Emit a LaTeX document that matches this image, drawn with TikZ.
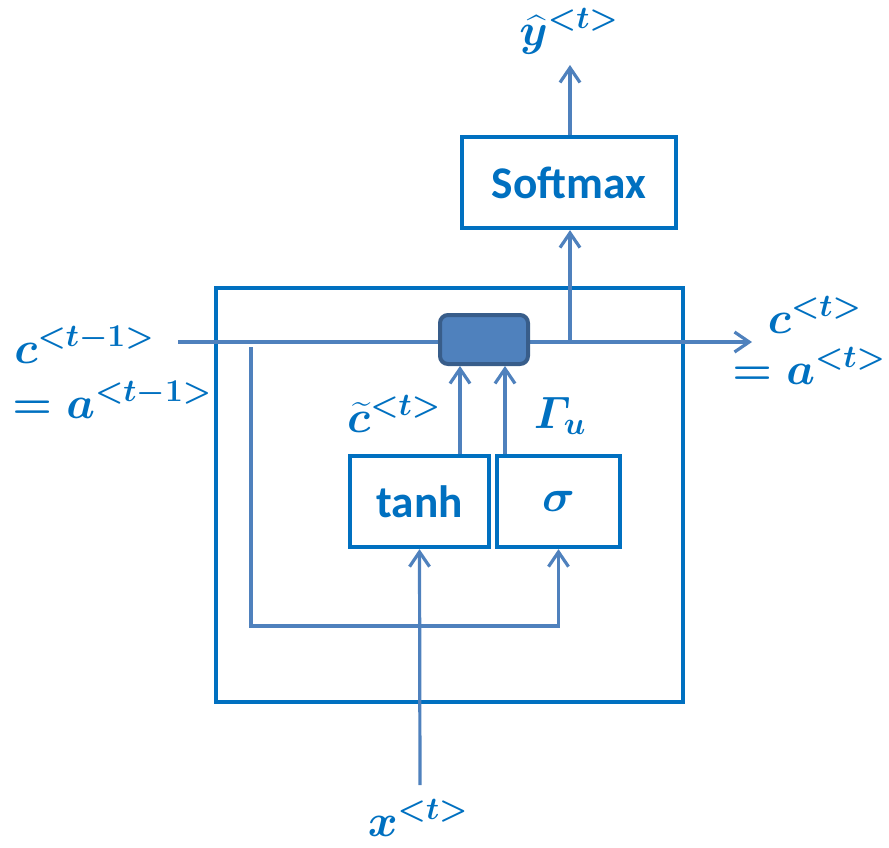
\RequirePackage{fix-cm}
\documentclass[tikz,border=0pt]{standalone}
\usepackage{amsmath}
\usepackage{fontspec}
\newfontfamily\carlito{Carlito}
\usetikzlibrary{arrows.meta}
\definecolor{boxblue}{HTML}{0070C0}
\definecolor{linkblue}{HTML}{4F81BD}
\definecolor{gateedge}{HTML}{385D8A}
\begin{document}
\begin{tikzpicture}[x=0.75pt,y=-0.75pt,
  box/.style={draw=boxblue, line width=3.2pt, rectangle, inner sep=0pt},
  link/.style={draw=linkblue, line width=2.4pt},
  arr/.style={link, -{Straight Barb[length=11pt,width=15pt,line width=2.4pt]}},
  lab/.style={text=boxblue, font=\fontsize{34}{38}\selectfont\boldmath, inner sep=0pt},
  word/.style={text=boxblue, font=\carlito\bfseries\fontsize{34}{36}\selectfont}
]
\useasboundingbox (0,0) rectangle (889,847);

% cell boundary
\node[box, minimum width=350.25pt, minimum height=310.5pt] (cell) at (449.5,495) {};

% memory line through the update gate
\coordinate (cin) at (178,342);
\coordinate (cout) at (752,342);
\coordinate (tap) at (570,342);
\draw[arr] (cin) -- (cout);

% blocks
\node[box, fill=white, minimum width=160.5pt, minimum height=68.25pt, word] (soft) at (569,182.5) {Softmax};
\node[box, fill=white, minimum width=104.25pt, minimum height=68.25pt, word] (tanh) at (419.5,501.5) {tanh};
\node[box, fill=white, minimum width=92.25pt, minimum height=68.25pt, lab] (sig) at (558.5,501.5) {$\sigma$};
\node[draw=gateedge, fill=linkblue, line width=3pt, rounded corners=6pt,
      minimum width=66pt, minimum height=36.75pt, inner sep=0pt] (gate) at (484,339.5) {};

% output branch
\coordinate (yout) at (570,65);
\draw[arr] (tap) -- (tap |- soft.south);
\draw[arr] (tap |- soft.north) -- (yout);

% candidate and gate into the update gate
\draw[arr] ([xshift=-18pt]gate.south |- tanh.north) -- ([xshift=-18pt]gate.south);
\draw[arr] ([xshift=15.75pt]gate.south |- sig.north) -- ([xshift=15.75pt]gate.south);

% previous memory loop into the gate block
\coordinate (lstart) at (251,347);
\coordinate (lcorner) at (251,626);
\draw[arr] (lstart) -- (lcorner) -| (sig.south);

% input
\coordinate (xin) at (420,785);
\draw[arr] (xin) -- (tanh.south);

% labels
\node[lab, anchor=base west] (cprev) at (14,363) {$c^{<t-1>}$};
\node[lab, anchor=base west] (aprev) at (12,418) {$=a^{<t-1>}$};
\node[lab, anchor=base east] (cnext) at (862,333) {$c^{<t>}$};
\node[lab, anchor=base east] (anext) at (886,384) {$=a^{<t>}$};
\node[lab, anchor=base] (ctil) at (394,432) {$\widetilde{c}^{<t>}$};
\node[lab, anchor=base] (gu) at (560,428) {$\varGamma_u$};
\node[lab, anchor=base] (yhat) at (569,45) {$\widehat{y}^{<t>}$};
\node[lab, anchor=base] (xt) at (418,836) {$x^{<t>}$};
\end{tikzpicture}
\end{document}
